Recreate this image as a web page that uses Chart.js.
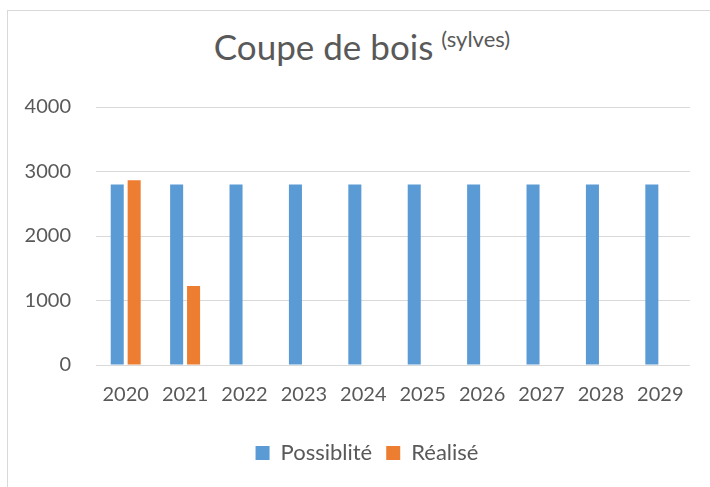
<!DOCTYPE html>
<html lang="fr">
<head>
  <meta charset="UTF-8">
  <title>Coupe de bois</title>
  <script src="https://cdn.jsdelivr.net/npm/chart.js"></script>
  <style>
    html, body { margin: 0; padding: 0; background: #fff; }
    body { width: 710px; height: 487px; position: relative; overflow: hidden; font-family: Lato, sans-serif; }
    .frame { position: absolute; left: 7px; top: 10px; width: 720px; height: 500px; border: 1px solid #d9d9d9; }
    .title { position: absolute; left: 7px; width: 710px; top: 26px; text-align: center; color: #595959; font-size: 35px; line-height: 40px; }
    .title sup { font-size: 22px; vertical-align: 0; position: relative; top: -13px; margin-left: 8px; }
    #wrap { position: absolute; left: 0; top: 0; width: 710px; height: 487px; }
  </style>
</head>
<body>
<div class="frame"></div>
<div class="title">Coupe de bois<sup>(sylves)</sup></div>
<div id="wrap"><canvas id="chart"></canvas></div>
<script>
  const years = ['2020', '2021', '2022', '2023', '2024', '2025', '2026', '2027', '2028', '2029'];
  const possibilite = [2800, 2800, 2800, 2800, 2800, 2800, 2800, 2800, 2800, 2800];
  const realise = [2865, 1225, null, null, null, null, null, null, null, null];
  const yTicks = [0, 1000, 2000, 3000, 4000];

  const grey = '#595959';

  // the legend sits a little right of centre in the original
  const shiftLegend = {
    id: 'shiftLegend',
    afterLayout(chart) {
      chart.legend.left += 22;
      chart.legend.right += 22;
    }
  };

  new Chart(document.getElementById('chart'), {
    type: 'bar',
    data: {
      labels: years,
      datasets: [
        { label: 'Possiblité', data: possibilite, backgroundColor: '#5b9bd5',
          barPercentage: 0.77, categoryPercentage: 0.57 },
        { label: 'Réalisé', data: realise, backgroundColor: '#ed7d31',
          barPercentage: 0.77, categoryPercentage: 0.57 }
      ]
    },
    options: {
      responsive: true,
      maintainAspectRatio: false,
      animation: false,
      layout: { padding: { left: 0, right: 20, top: 107, bottom: 13 } },
      plugins: {
        title: { display: false },
        tooltip: { enabled: false },
        legend: {
          position: 'bottom',
          labels: {
            color: grey,
            font: { family: 'Lato', size: 22 },
            boxWidth: 14,
            boxHeight: 14,
            padding: 14
          }
        }
      },
      scales: {
        x: {
          grid: { display: false, drawTicks: false },
          border: { display: false },
          ticks: { color: grey, font: { family: 'Lato', size: 20 }, padding: 18, maxRotation: 0 },
          afterFit: s => { s.height = 63; }
        },
        y: {
          min: 0,
          max: 4000,
          afterBuildTicks: s => { s.ticks = yTicks.map(v => ({ value: v })); },
          grid: { color: '#d9d9d9', drawTicks: false },
          border: { display: false },
          ticks: { color: grey, font: { family: 'Lato', size: 20 }, padding: 25, callback: v => String(v) },
          afterFit: s => { s.width = 96; }
        }
      }
    },
    plugins: [shiftLegend]
  });
</script>
</body>
</html>
